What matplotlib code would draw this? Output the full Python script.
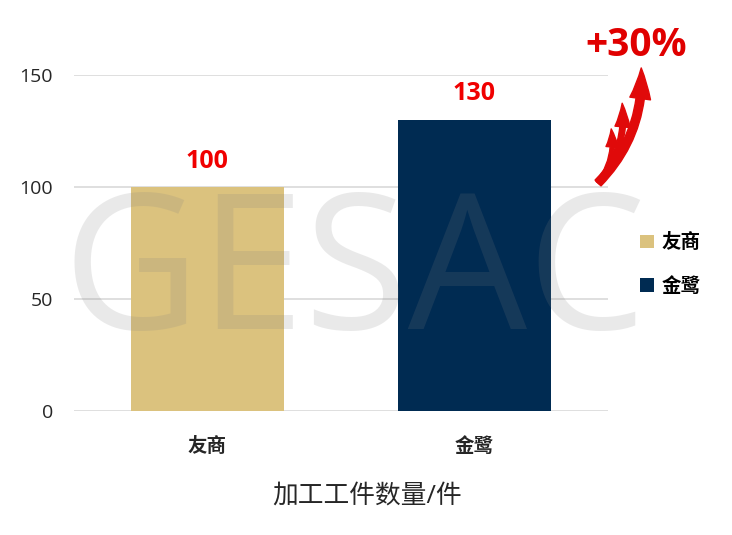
import matplotlib
matplotlib.use("Agg")
import matplotlib.pyplot as plt
from matplotlib.patches import FancyArrowPatch

plt.rcParams['font.family'] = ['Open Sans', 'Noto Sans CJK SC', 'DejaVu Sans']

categories = ["友商", "金鹭"]
values = [100, 130]
colors = ["#DBC27E", "#002B52"]
y_ticks = [0, 50, 100, 150]
x_title = "加工工件数量/件"
gain_text = "+30%"
watermark = "GESAC"

fig = plt.figure(figsize=(7.32, 5.35), dpi=100)
ax = fig.add_axes([0.101, 0.2318, 0.7295, 0.628])

for i, (c, v, col) in enumerate(zip(categories, values, colors)):
    ax.bar(i, v, width=0.573, color=col, label=c, zorder=2)
    ax.text(i, v + 6, str(v), ha="center", va="bottom", color="#F00000",
            fontsize=18, fontweight="bold", zorder=4)

ax.set_xlim(-0.5, 1.5)
ax.set_ylim(0, 150)
ax.set_yticks(y_ticks)
ax.set_xticks(range(len(categories)))
ax.set_xticklabels(categories, fontsize=14, fontweight="bold")
ax.tick_params(axis="y", labelsize=14, length=0, pad=15, colors="#262626")
ax.tick_params(axis="x", length=0, pad=19, colors="#262626")
ax.yaxis.grid(True, color="#D9D9D9", linewidth=1.2, zorder=0)
ax.set_axisbelow(True)
for s in ax.spines.values():
    s.set_visible(False)
ax.set_xlabel(x_title, fontsize=18.5, color="#262626")
ax.xaxis.set_label_coords(0.549, -0.215)

# watermark
ax.text(0.526, 0.39, watermark, transform=ax.transAxes, ha="center", va="center",
        fontsize=136, color="#808080", alpha=0.17, zorder=3,
        family="Open Sans", clip_on=False)

# legend
leg = ax.legend(loc="center left", bbox_to_anchor=(1.028, 0.435), frameon=False,
                fontsize=14, handlelength=0.7, handleheight=0.7,
                labelspacing=1.2, handletextpad=0.4)
for t in leg.get_texts():
    t.set_fontweight("bold")

# gain text and arrows
fig.text(0.869, 0.915, gain_text, ha="center", va="center", color="#E00000",
         fontsize=28, fontweight="bold")
base = (0.817, 0.658)
tips = [(0.835, 0.759), (0.850, 0.807), (0.876, 0.873)]
sizes = [(3, 9, 13), (4, 11, 17), (6, 15, 22)]
for tip, (tw, hw, hl) in zip(tips, sizes):
    arr = FancyArrowPatch(base, tip, transform=fig.transFigure,
                          connectionstyle="arc3,rad=0.22",
                          arrowstyle=f"simple,head_width={hw},head_length={hl},tail_width={tw}",
                          color="#E00A0A", mutation_scale=1, shrinkA=0, shrinkB=0)
    fig.add_artist(arr)

fig.savefig("out.png", dpi=100)
